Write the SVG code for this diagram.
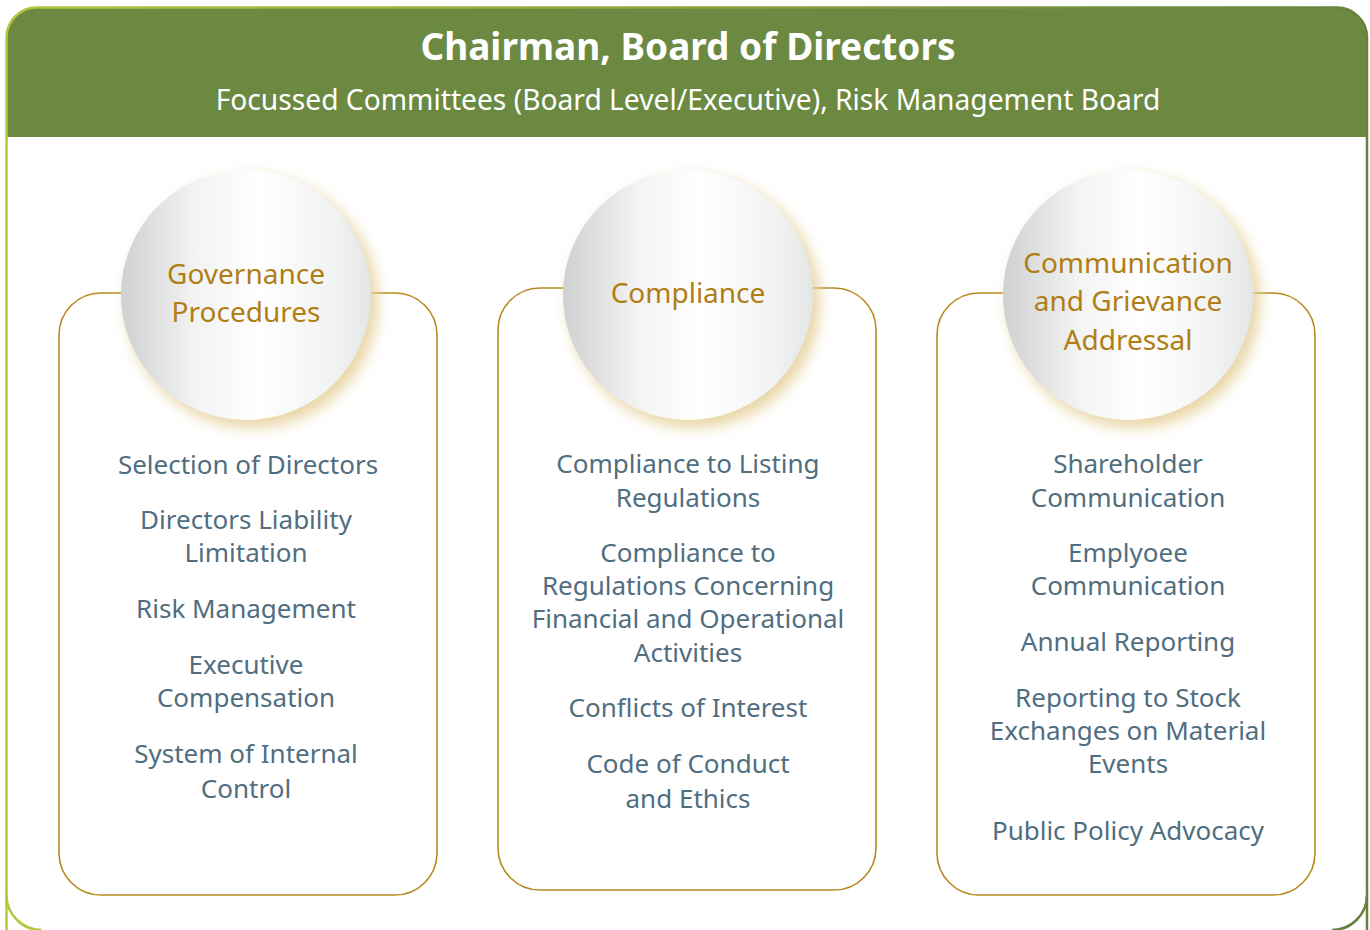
<svg xmlns="http://www.w3.org/2000/svg" width="1370" height="930" viewBox="0 0 1370 930">
  <defs>
    <linearGradient id="frameStroke" x1="0" y1="0" x2="1" y2="0">
      <stop offset="0" stop-color="#b3c83c"/>
      <stop offset="1" stop-color="#66803f"/>
    </linearGradient>
    <linearGradient id="discFill" x1="0" y1="0" x2="1" y2="0">
      <stop offset="0" stop-color="#cfd0d1"/>
      <stop offset="0.3" stop-color="#f3f3f3"/>
      <stop offset="0.55" stop-color="#ffffff"/>
      <stop offset="0.85" stop-color="#f1f2f2"/>
      <stop offset="1" stop-color="#e4e6e6"/>
    </linearGradient>
    <filter id="discGlow" x="-30%" y="-30%" width="160%" height="160%">
      <feGaussianBlur stdDeviation="7"/>
    </filter>
    <clipPath id="frameClip">
      <path d="M6.5 37 A30 30 0 0 1 36.5 7.5 H1337 A30 30 0 0 1 1367 37 V960 H6.5 Z"/>
    </clipPath>
  </defs>
  <style>
    .box { fill: none; stroke: #b8891f; stroke-width: 1.6; }
    .disc { fill: url(#discFill); }
    .glow { fill: #e6d29c; opacity: 0.9; }
    .head { font-family: "Noto Sans", "DejaVu Sans", sans-serif; fill: #b07e14; font-size: 28px; text-anchor: middle; }
    .item { font-family: "Noto Sans", "DejaVu Sans", sans-serif; fill: #506e80; font-size: 26px; text-anchor: middle; }
    .title { font-family: "Noto Sans", "DejaVu Sans", sans-serif; fill: #ffffff; font-weight: bold; font-size: 37px; text-anchor: middle; }
    .sub { font-family: "Noto Sans", "DejaVu Sans", sans-serif; fill: #ffffff; font-size: 28.2px; text-anchor: middle; }
  </style>

  <rect width="1370" height="930" fill="#ffffff"/>

  <!-- outer frame with header band -->
  <g id="frame">
    <rect x="0" y="0" width="1370" height="137" fill="#6b8941" clip-path="url(#frameClip)"/>
    <path d="M6.5 960 V37 A30 30 0 0 1 36.5 7.5 H1337 A30 30 0 0 1 1367 37 V960" fill="none" stroke="url(#frameStroke)" stroke-width="2.5"/>
    <path d="M6.5 895 A35 35 0 0 0 41.5 930" fill="none" stroke="#b3c83c" stroke-width="2.5"/>
    <path d="M1367 895 A35 35 0 0 1 1332 930" fill="none" stroke="#66803f" stroke-width="2.5"/>
    <text class="title" x="688" y="60">Chairman, Board of Directors</text>
    <text class="sub" x="688" y="110">Focussed Committees (Board Level/Executive), Risk Management Board</text>
  </g>

  <!-- Governance Procedures -->
  <g id="governance">
    <rect class="box" x="59" y="293" width="378" height="602" rx="42" ry="42"/>
    <circle class="glow" cx="252" cy="302" r="126" filter="url(#discGlow)"/>
    <circle class="disc" cx="246" cy="295" r="125"/>
    <text class="head" x="246" y="284">Governance</text>
    <text class="head" x="246" y="322">Procedures</text>
    <text class="item" x="248" y="474">Selection of Directors</text>
    <text class="item" x="246" y="529">Directors Liability</text>
    <text class="item" x="246" y="562">Limitation</text>
    <text class="item" x="246" y="618">Risk Management</text>
    <text class="item" x="246" y="674">Executive</text>
    <text class="item" x="246" y="707">Compensation</text>
    <text class="item" x="246" y="763">System of Internal</text>
    <text class="item" x="246" y="798">Control</text>
  </g>

  <!-- Compliance -->
  <g id="compliance">
    <rect class="box" x="498" y="288" width="378" height="602" rx="42" ry="42"/>
    <circle class="glow" cx="694" cy="302" r="126" filter="url(#discGlow)"/>
    <circle class="disc" cx="688" cy="295" r="125"/>
    <text class="head" x="688" y="303">Compliance</text>
    <text class="item" x="688" y="473">Compliance to Listing</text>
    <text class="item" x="688" y="507">Regulations</text>
    <text class="item" x="688" y="562">Compliance to</text>
    <text class="item" x="688" y="595">Regulations Concerning</text>
    <text class="item" x="688" y="628">Financial and Operational</text>
    <text class="item" x="688" y="662">Activities</text>
    <text class="item" x="688" y="717">Conflicts of Interest</text>
    <text class="item" x="688" y="773">Code of Conduct</text>
    <text class="item" x="688" y="808">and Ethics</text>
  </g>

  <!-- Communication and Grievance Addressal -->
  <g id="communication">
    <rect class="box" x="937" y="293" width="378" height="602" rx="42" ry="42"/>
    <circle class="glow" cx="1134" cy="302" r="126" filter="url(#discGlow)"/>
    <circle class="disc" cx="1128" cy="295" r="125"/>
    <text class="head" x="1128" y="273">Communication</text>
    <text class="head" x="1128" y="311">and Grievance</text>
    <text class="head" x="1128" y="350">Addressal</text>
    <text class="item" x="1128" y="473">Shareholder</text>
    <text class="item" x="1128" y="507">Communication</text>
    <text class="item" x="1128" y="562">Emplyoee</text>
    <text class="item" x="1128" y="595">Communication</text>
    <text class="item" x="1128" y="651">Annual Reporting</text>
    <text class="item" x="1128" y="707">Reporting to Stock</text>
    <text class="item" x="1128" y="740">Exchanges on Material</text>
    <text class="item" x="1128" y="773">Events</text>
    <text class="item" x="1128" y="840">Public Policy Advocacy</text>
  </g>
</svg>
